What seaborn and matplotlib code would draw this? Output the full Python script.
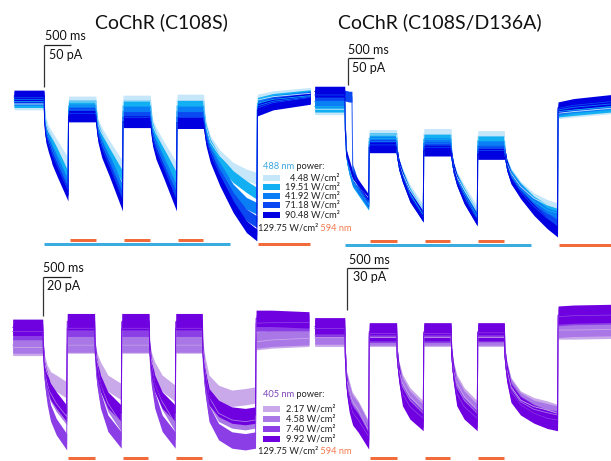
import matplotlib
matplotlib.use("Agg")
import matplotlib.pyplot as plt
import pandas as pd
import seaborn as sns
from matplotlib.patches import Rectangle
from matplotlib.transforms import blended_transform_factory

# ---------------- data ----------------
# sample times (ms) relative to first light onset, shared by every trace
T = [-570, -5,
     5, 30, 80, 130, 145, 250, 445,
     455, 970,
     980, 1010, 1080, 1220, 1470,
     1480, 1995,
     2005, 2035, 2100, 2240, 2485,
     2495, 2995,
     3005, 3040, 3120, 3300, 3550, 3800, 3995,
     4005, 4300, 5000]

blue_labels = ['4.48', '19.51', '41.92', '71.18', '90.48']       # W/cm2, 488 nm
violet_labels = ['2.17', '4.58', '7.40', '9.92']                 # W/cm2, 405 nm

# CoChR (C108S), 488 nm, pA
c108s_488_4_48 = [-9.5, -9.5, -16.7, -32.5, -42.5, -47.6, -49.2, -60.3, -80.2, -7.1, -7.1, -18.7, -34.5, -44.4, -59.5, -84.1, -6.0, -6.0, -18.7, -34.5, -44.4, -60.3, -86.1, -4.8, -4.8, -18.7, -36.5, -54.4, -71.4, -86.1, -94.0, -98.0, -4.8, -0.8, 3.2]
c108s_488_19_51 = [-6.7, -6.7, -22.6, -38.5, -48.4, -54.4, -56.3, -70.2, -96.0, -11.9, -11.9, -22.6, -38.5, -50.4, -68.3, -96.0, -11.9, -11.9, -22.6, -38.5, -50.4, -68.3, -98.0, -11.9, -11.9, -23.8, -40.5, -58.3, -78.2, -96.0, -107.9, -115.9, -8.7, -4.0, 0.4]
c108s_488_41_92 = [-4.0, -4.0, -26.6, -42.5, -52.4, -60.3, -63.5, -78.2, -106.0, -16.7, -16.7, -26.6, -42.5, -56.3, -76.2, -111.9, -18.7, -18.7, -27.8, -44.4, -58.3, -78.2, -111.9, -18.7, -18.7, -27.8, -44.4, -63.5, -86.1, -111.9, -127.8, -133.7, -11.9, -6.3, -0.8]
c108s_488_71_18 = [-1.6, -1.6, -29.4, -45.2, -57.1, -65.1, -68.3, -84.1, -111.9, -20.6, -20.6, -29.4, -45.2, -61.1, -82.1, -121.8, -25.4, -25.4, -31.7, -48.4, -63.5, -84.1, -121.8, -25.4, -25.4, -31.7, -48.4, -68.3, -92.9, -121.8, -141.7, -149.6, -14.3, -7.9, -2.0]
c108s_488_90_48 = [0.0, 0.0, -32.5, -48.4, -60.3, -70.2, -74.2, -90.1, -117.9, -23.8, -23.8, -32.5, -48.4, -66.3, -88.1, -129.8, -30.6, -30.6, -36.5, -52.4, -68.3, -90.1, -129.8, -31.7, -31.7, -36.5, -52.4, -72.2, -100.0, -131.7, -155.6, -165.5, -16.7, -9.5, -2.8]

# CoChR (C108S/D136A), 488 nm, pA
d136a_488_4_48 = [-29.6, -29.6, -67.9, -117.2, -138.8, -154.3, -159.2, -172.8, -194.4, -77.1, -77.1, -111.1, -129.6, -148.1, -178.9, -216.0, -75.3, -75.3, -117.2, -135.7, -154.3, -178.9, -219.0, -79.0, -79.0, -111.1, -129.6, -148.1, -172.8, -194.4, -206.7, -212.9, -37.0, -33.9, -27.8]
d136a_488_19_51 = [-24.7, -24.7, -67.9, -118.5, -141.9, -159.2, -163.5, -178.9, -206.7, -83.3, -83.3, -112.3, -130.8, -151.2, -185.1, -225.2, -85.1, -85.1, -118.5, -137.0, -157.3, -185.1, -228.3, -88.2, -88.2, -112.3, -130.8, -151.2, -175.8, -200.5, -216.0, -222.1, -33.9, -30.9, -24.7]
d136a_488_41_92 = [-15.4, -15.4, -67.9, -117.2, -140.7, -157.3, -161.7, -175.8, -203.6, -89.5, -89.5, -112.3, -130.8, -154.3, -188.2, -228.3, -92.6, -92.6, -118.5, -137.0, -159.2, -191.3, -231.4, -97.5, -97.5, -112.3, -132.7, -154.3, -178.9, -203.6, -222.1, -228.3, -30.9, -25.9, -19.7]
d136a_488_71_18 = [-3.1, -3.1, -4.9, -4.9, -6.2, -6.2, -141.9, -172.8, -200.5, -95.6, -95.6, -112.3, -130.8, -154.3, -190.0, -228.3, -100.0, -100.0, -118.5, -137.0, -160.4, -194.4, -234.5, -106.1, -106.1, -112.3, -132.7, -157.3, -182.0, -209.8, -231.4, -243.7, -27.8, -22.2, -15.4]
d136a_488_90_48 = [3.1, 3.1, -67.9, -116.0, -132.7, -149.3, -154.3, -169.7, -197.4, -100.0, -100.0, -112.3, -130.8, -154.3, -191.3, -228.3, -106.1, -106.1, -118.5, -137.0, -160.4, -194.4, -235.7, -112.3, -112.3, -112.3, -132.7, -157.3, -185.1, -216.0, -240.6, -256.1, -25.9, -19.7, -12.3]

# CoChR (C108S), 405 nm, pA
c108s_405_2_17 = [-10.3, -10.3, -11.6, -18.5, -23.6, -26.2, -27.0, -28.7, -32.1, -9.1, -9.1, -11.6, -16.8, -21.9, -28.7, -33.0, -9.1, -9.1, -11.6, -16.8, -21.9, -28.7, -33.9, -9.1, -9.1, -11.6, -18.5, -28.7, -33.9, -36.4, -35.6, -34.7, -7.4, -6.5, -5.6]
c108s_405_4_58 = [-9.1, -9.1, -11.6, -21.9, -28.7, -33.0, -33.9, -39.0, -45.8, -8.6, -8.6, -11.6, -18.5, -28.7, -39.0, -49.2, -8.6, -8.6, -11.6, -18.5, -28.7, -38.1, -49.2, -8.6, -8.6, -13.3, -21.9, -35.6, -44.1, -47.5, -48.4, -47.5, -6.5, -5.6, -4.8]
c108s_405_7_40 = [-2.2, -2.2, -11.6, -25.3, -35.6, -42.4, -44.1, -51.0, -58.7, -0.5, -0.5, -13.3, -25.3, -37.3, -49.2, -57.8, -0.5, -0.5, -13.3, -25.3, -37.3, -49.2, -57.8, -0.5, -0.5, -15.0, -28.7, -44.1, -53.5, -57.8, -58.7, -57.8, 2.1, 2.4, 2.4]
c108s_405_9_92 = [0.0, 0.0, -11.6, -21.9, -27.0, -32.1, -33.0, -37.3, -44.1, 2.9, 2.9, -11.6, -20.2, -28.7, -37.3, -44.1, 2.9, 2.9, -11.6, -20.2, -28.7, -37.3, -44.1, 2.9, 2.9, -13.3, -23.6, -35.6, -41.6, -45.0, -45.8, -45.0, 4.6, 4.6, 3.8]

# CoChR (C108S/D136A), 405 nm, pA
d136a_405_2_17 = [-7.6, -7.6, -21.4, -38.1, -45.2, -52.4, -53.6, -59.5, -73.8, -7.6, -7.6, -21.4, -30.9, -40.5, -50.0, -59.5, -7.6, -7.6, -21.4, -30.9, -40.5, -50.0, -59.5, -7.6, -7.6, -21.4, -30.9, -42.8, -52.4, -57.1, -59.5, -61.9, -2.4, -2.4, -1.9]
d136a_405_4_58 = [-6.0, -6.0, -21.4, -39.3, -47.6, -54.3, -55.5, -60.7, -75.0, -6.7, -6.7, -21.4, -31.4, -42.8, -52.4, -61.9, -6.7, -6.7, -21.4, -31.4, -42.8, -52.4, -61.9, -6.7, -6.7, -21.4, -31.4, -44.0, -53.6, -59.0, -61.4, -63.1, -1.2, -0.5, 0.0]
d136a_405_7_40 = [-1.2, -1.2, -21.4, -40.5, -52.4, -59.5, -61.4, -66.6, -78.5, -4.8, -4.8, -21.4, -32.1, -47.6, -57.1, -65.5, -4.8, -4.8, -21.4, -32.1, -47.6, -57.1, -65.5, -4.3, -4.3, -21.4, -32.1, -46.4, -55.9, -61.9, -65.5, -66.6, 7.1, 7.9, 8.3]
d136a_405_9_92 = [0.0, 0.0, -21.4, -41.7, -54.7, -61.9, -63.8, -69.0, -80.9, -3.6, -3.6, -21.4, -32.8, -50.0, -59.5, -67.8, -3.6, -3.6, -21.4, -32.8, -50.0, -59.5, -67.8, -3.6, -3.6, -21.4, -32.8, -47.6, -56.6, -62.4, -66.2, -67.8, 8.3, 9.0, 9.5]

# trace noise half-width (pA) per panel
noise_halfwidth_pA = [7.0, 10.0, 4.2, 6.5]

# light protocol (ms)
activation_light = [(0, 3490)]
orange_pulses = [(475, 970), (1500, 1980), (2505, 2980)]
orange_final = [(4020, 5000)]

scale_ms = [500, 500, 500, 500]
scale_pA = [50, 50, 20, 30]
scale_hline_ms = [500, 500, 530, 780]

titles = ['CoChR (C108S)', 'CoChR (C108S/D136A)']

# ---------------- style ----------------
blue_colors = ['#c6e6fa', '#12aff2', '#0a7ef5', '#0a48f2', '#0000e0']
violet_colors = ['#c9a9ea', '#a977e6', '#8b3de6', '#6f00e0']
ORANGE = '#f26b3a'
BLUE_BAR = '#3aace0'
VIOLET_BAR = '#c9b0ee'

sns.set_theme(style="white")
plt.rcParams['font.family'] = ['Lato', 'DejaVu Sans']

W, H = 611, 461
PX_PER_MS = 0.0532
fig = plt.figure(figsize=(W / 100, H / 100), dpi=100)

panels = [
    dict(x0=44.3, y0=96.0, k=0.84,
         traces=[c108s_488_4_48, c108s_488_19_51, c108s_488_41_92, c108s_488_71_18, c108s_488_90_48],
         labels=blue_labels, colors=blue_colors, barA=240.0, barB=244.3, act=BLUE_BAR,
         corner=(44.3, 45.0), t_ms=(45, 42), t_pa=(49, 49)),
    dict(x0=345.0, y0=93.3, k=0.54,
         traces=[d136a_488_4_48, d136a_488_19_51, d136a_488_41_92, d136a_488_71_18, d136a_488_90_48],
         labels=blue_labels, colors=blue_colors, barA=240.7, barB=245.0, act=BLUE_BAR,
         corner=(347.7, 58.3), t_ms=(348, 55.5), t_pa=(352, 62)),
    dict(x0=43.0, y0=327.3, k=1.95,
         traces=[c108s_405_2_17, c108s_405_4_58, c108s_405_7_40, c108s_405_9_92],
         labels=violet_labels, colors=violet_colors, barA=458.3, barB=462.0, act=VIOLET_BAR,
         corner=(43.3, 276.7), t_ms=(43, 274), t_pa=(47, 280)),
    dict(x0=345.0, y0=326.7, k=1.4,
         traces=[d136a_405_2_17, d136a_405_4_58, d136a_405_7_40, d136a_405_9_92],
         labels=violet_labels, colors=violet_colors, barA=458.3, barB=462.0, act=VIOLET_BAR,
         corner=(346.7, 268.3), t_ms=(349, 265.5), t_pa=(353, 271)),
]

ov = fig.add_axes([0, 0, 1, 1])
ov.set_xlim(0, W)
ov.set_ylim(H, 0)
ov.axis('off')
ov.patch.set_visible(False)

for i, p in enumerate(panels):
    ax = fig.add_axes([0, 0, 1, 1])
    ax.patch.set_visible(False)
    half = noise_halfwidth_pA[i]
    rows = []
    for lab, vals in zip(p['labels'], p['traces']):
        for t, v in zip(T, vals):
            rows.append((lab, t, v - half))
            rows.append((lab, t, v + half))
    df = pd.DataFrame(rows, columns=['power', 't', 'I'])
    sns.lineplot(data=df, x='t', y='I', hue='power', hue_order=p['labels'],
                 palette=p['colors'], estimator='mean', errorbar=('pi', 100),
                 err_kws={'alpha': 1, 'linewidth': 0}, linewidth=0.6,
                 legend=False, ax=ax)
    ax.set_xlim(-p['x0'] / PX_PER_MS, (W - p['x0']) / PX_PER_MS)
    ax.set_ylim((p['y0'] - H) / p['k'], p['y0'] / p['k'])
    ax.axis('off')

    # light protocol bars
    tr = blended_transform_factory(ax.transData, ax.transAxes)
    yA = 1 - p['barA'] / H
    yB = 1 - p['barB'] / H
    lw = 3 * 72 / 100
    for a, b in activation_light:
        ax.plot([a, b], [yB, yB], transform=tr, color=p['act'], lw=lw,
                solid_capstyle='butt', clip_on=False)
    for a, b in orange_pulses:
        ax.plot([a, b], [yA, yA], transform=tr, color=ORANGE, lw=lw,
                solid_capstyle='butt', clip_on=False)
    for a, b in orange_final:
        ax.plot([a, b], [yB, yB], transform=tr, color=ORANGE, lw=lw,
                solid_capstyle='butt', clip_on=False)

    # scale bar
    tc = (p['corner'][0] - p['x0']) / PX_PER_MS
    ic = (p['y0'] - p['corner'][1]) / p['k']
    ax.plot([tc, tc + scale_hline_ms[i]], [ic, ic], color='#222222', lw=0.9,
            solid_capstyle='butt')
    ax.plot([tc, tc], [ic, ic - scale_pA[i]], color='#333333', lw=0.9,
            solid_capstyle='butt')
    ov.text(p['t_ms'][0], p['t_ms'][1], f"{scale_ms[i]} ms", fontsize=9,
            color='#111111', ha='left', va='bottom')
    ov.text(p['t_pa'][0], p['t_pa'][1], f"{scale_pA[i]} pA", fontsize=9,
            color='#111111', ha='left', va='top')

# titles
ov.text(161, 22, titles[0], fontsize=14, ha='center', va='center', color='#111111')
ov.text(440, 22, titles[1], fontsize=14, ha='center', va='center', color='#111111')

# legends
LEG_FS = 6.7
def legend_block(y_head, rows_y, labels, colors, nm, nm_color, y_foot, x_right):
    t1 = ov.text(263, y_head, f"{nm} nm", fontsize=LEG_FS, color=nm_color,
                 ha='left', va='center')
    ov.annotate(" power:", xy=(1, 0), xycoords=t1, fontsize=LEG_FS,
                color='#222222', ha='left', va='bottom')
    for y, lab, col in zip(rows_y, labels, colors):
        ov.add_patch(Rectangle((263, y - 3), 17, 6, facecolor=col, edgecolor='none'))
        ov.text(x_right, y, f"{lab} W/cm\u00b2", fontsize=LEG_FS,
                color='#222222', ha='right', va='center')
    t2 = ov.text(258, y_foot, "129.75 W/cm\u00b2", fontsize=LEG_FS, color='#222222',
                 ha='left', va='center')
    ov.annotate(" 594 nm", xy=(1, 0), xycoords=t2, fontsize=LEG_FS,
                color='#f47a4e', ha='left', va='bottom')

legend_block(166.7, [177.7, 186.7, 196.0, 205.0, 214.5], blue_labels, blue_colors,
             '488', '#3aa6e0', 228.0, 340)
legend_block(394.7, [409.0, 418.7, 428.7, 438.7], violet_labels, violet_colors,
             '405', '#7c45b8', 451.3, 336)

fig.savefig('out.png', dpi=100)
